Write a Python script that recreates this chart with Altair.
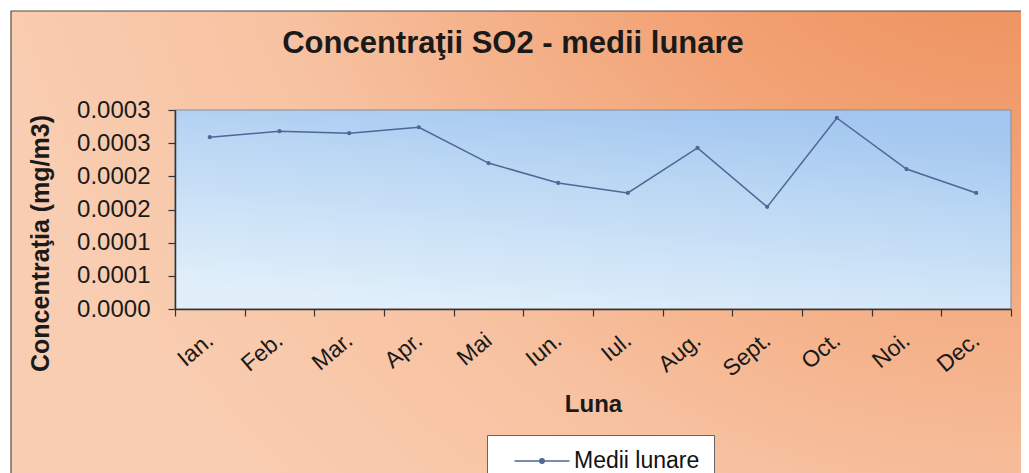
import altair as alt
import pandas as pd

# ---- data ----
months = ["Ian.", "Feb.", "Mar.", "Apr.", "Mai", "Iun.", "Iul.", "Aug.", "Sept.", "Oct.", "Noi.", "Dec."]
values = [0.000259, 0.000268, 0.000265, 0.000274, 0.000220, 0.000190,
          0.000175, 0.000243, 0.000154, 0.000288, 0.000211, 0.000175]
series_name = "Medii lunare"
y_tick_values = [0.0, 0.00005, 0.0001, 0.00015, 0.0002, 0.00025, 0.0003]
y_tick_labels = ["0.0000", "0.0001", "0.0001", "0.0002", "0.0002", "0.0003", "0.0003"]

title_text = "Concentraţii SO2 - medii lunare"
y_title = "Concentraţia (mg/m3)"
x_title = "Luna"

df = pd.DataFrame({"luna": months, "val": values, "serie": [series_name] * len(months)})

FONT = "Liberation Sans"
LINE_COLOR = "#4E6797"
W, H = 836, 199

label_expr = "[" + ",".join("'%s'" % s for s in y_tick_labels) + "][round(datum.value / %g)]" % y_tick_values[1]

orange_grad = {
    "gradient": "radial", "x1": 1, "y1": 0, "r1": 0, "x2": 1, "y2": 0, "r2": 1.05,
    "stops": [
        {"offset": 0.0, "color": "#EA7E46"},
        {"offset": 0.4, "color": "#F2A173"},
        {"offset": 0.75, "color": "#F7C2A1"},
        {"offset": 1.0, "color": "#F9CDB1"},
    ],
}
blue_grad = {
    "gradient": "linear", "x1": 0.75, "y1": 0, "x2": 0.35, "y2": 1,
    "stops": [
        {"offset": 0.0, "color": "#A2C6EF"},
        {"offset": 0.5, "color": "#C2DCF5"},
        {"offset": 1.0, "color": "#E0EFFA"},
    ],
}

one = alt.Data(values=[{"k": 1}])

outer_bg = alt.Chart(one).mark_rect(
    fill=orange_grad, stroke="#5b4b42", strokeWidth=1.2
).encode(x=alt.value(-164), x2=alt.value(860), y=alt.value(-99), y2=alt.value(365))

plot_bg = alt.Chart(one).mark_rect(
    fill=blue_grad, stroke="#8c8c8c", strokeWidth=1
).encode(x=alt.value(0), x2=alt.value(W), y=alt.value(0), y2=alt.value(H))

line = alt.Chart(df).mark_line(
    strokeWidth=1.5,
    point=alt.OverlayMarkDef(size=18, filled=True, color=LINE_COLOR),
).encode(
    x=alt.X("luna:N", sort=months,
            scale=alt.Scale(type="band", domain=months, paddingInner=0, paddingOuter=0),
            axis=alt.Axis(
                title=x_title, titleFontSize=24, titleFontWeight="bold", titleColor="#1a1a1a",
                titleY=102, titleBaseline="alphabetic",
                labelAngle=-40, labelAlign="right", labelBaseline="middle",
                labelFontSize=23, labelColor="#1a1a1a", labelPadding=21,
                tickBand="extent", tickSize=7, tickColor="#333", tickWidth=1.2,
                domainColor="#333", domainWidth=1.5, grid=False, zindex=1,
            )),
    y=alt.Y("val:Q",
            scale=alt.Scale(domain=[0, 0.0003], nice=False, zero=True),
            axis=alt.Axis(
                values=y_tick_values, labelExpr=label_expr,
                title=y_title, titleFontSize=25, titleFontWeight="bold", titleColor="#1a1a1a",
                titleAngle=-90, titleX=-127, titleY=133, titleAlign="center",
                titleBaseline="alphabetic",
                labelFontSize=24, labelColor="#1a1a1a", labelPadding=18,
                tickSize=7, tickColor="#333", tickWidth=1.2,
                domainColor="#333", domainWidth=1.5, grid=False, zindex=1,
            )),
    color=alt.Color("serie:N",
                    scale=alt.Scale(domain=[series_name], range=[LINE_COLOR]),
                    legend=alt.Legend(
                        orient="none", legendX=312, legendY=325, title=None,
                        fillColor="white", strokeColor="#666", padding=14,
                        symbolType="M-2.5,0H2.5M-0.2,0A0.2,0.2,0,1,1,0.2,0A0.2,0.2,0,1,1,-0.2,0Z",
                        symbolSize=484, symbolStrokeWidth=1.5,
                        symbolStrokeColor=LINE_COLOR, symbolFillColor=LINE_COLOR,
                        symbolOffset=29, labelOffset=20,
                        labelFontSize=23, labelFont=FONT, labelColor="#111", zindex=1,
                    )),
)

chart = alt.layer(outer_bg, plot_bg, line).properties(
    width=W, height=H,
    autosize=alt.AutoSizeParams(type="none"),
    padding={"left": 167, "top": 102, "right": 10, "bottom": 164},
    title=alt.TitleParams(
        text=title_text, fontSize=31, font=FONT, fontWeight="bold", color="#1a1a1a",
        anchor="middle", frame="group", dx=-80, dy=74, baseline="alphabetic", offset=0, zindex=1,
    ),
).configure(font=FONT, background="white").configure_view(stroke=None)

chart.save("out.html", embed_options={"renderer": "svg", "actions": False})
